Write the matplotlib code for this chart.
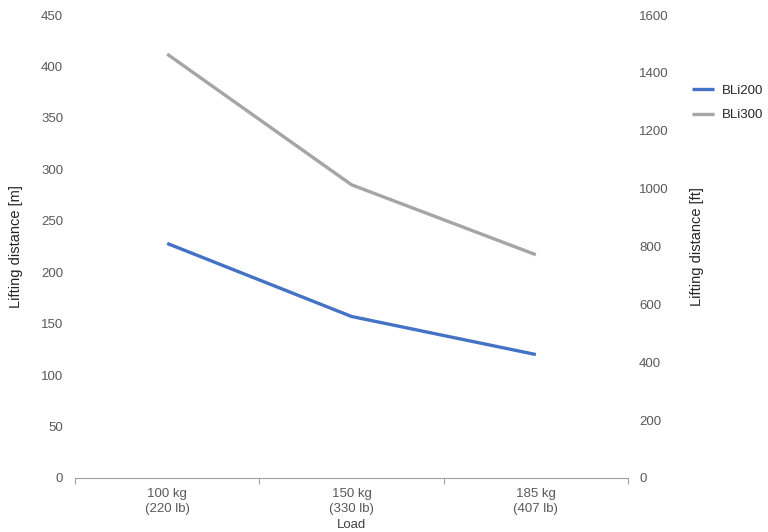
import matplotlib
matplotlib.use("Agg")
import matplotlib.pyplot as plt
import numpy as np

categories = ["100 kg\n(220 lb)", "150 kg\n(330 lb)", "185 kg\n(407 lb)"]
bli200 = [228, 157, 120]
bli300 = [412, 285, 217]
left_ticks = [0, 50, 100, 150, 200, 250, 300, 350, 400, 450]
right_ticks = [0, 200, 400, 600, 800, 1000, 1200, 1400, 1600]

plt.rcParams['font.family'] = ['Liberation Sans', 'DejaVu Sans']
tick_col = '#595959'

fig = plt.figure(figsize=(7.68, 5.32), dpi=100)
W = 628 - 75
ax = fig.add_axes([75/768, 1-478/532, W/768, (478-15)/532])
x = np.arange(len(categories))
ax.plot(x, bli200, color='#4472C4', lw=2.4, label='BLi200', solid_capstyle='butt')
ax.plot(x, bli300, color='#A5A5A5', lw=2.4, label='BLi300', solid_capstyle='butt')
ax.set_xlim(-0.5, len(categories)-0.5)
ax.set_ylim(0, 450)
ax.set_yticks(left_ticks)
ax.set_xticks(x)
ax.set_xticklabels(categories, linespacing=1.3)
ax.set_xticks(np.arange(-0.5, len(categories), 1), minor=True)
ax.tick_params(axis='x', which='major', length=0, pad=7.5, labelsize=9.5, labelcolor=tick_col)
ax.tick_params(axis='x', which='minor', length=4, color='#A0A0A0', width=0.8)
ax.tick_params(axis='y', length=0, pad=8.5, labelsize=9.5, labelcolor=tick_col)
for s in ['top', 'left', 'right']:
    ax.spines[s].set_visible(False)
ax.spines['bottom'].set_color('#A0A0A0')
ax.spines['bottom'].set_linewidth(0.8)
ax.set_xlabel('Load', fontsize=9.5, color='#404040', labelpad=3)
ax.set_ylabel('Lifting distance [m]', fontsize=10.5, color='#262626')
ax.yaxis.set_label_coords((23-75)/W, 0.5)

ax2 = ax.twinx()
ax2.set_ylim(0, 1600)
ax2.set_yticks(right_ticks)
ax2.tick_params(axis='y', length=0, pad=8, labelsize=9.5, labelcolor=tick_col)
for s in ['top', 'left', 'right', 'bottom']:
    ax2.spines[s].set_visible(False)
ax2.set_ylabel('Lifting distance [ft]', fontsize=10.5, color='#262626')
ax2.yaxis.set_label_coords((690-75)/W, 0.5)

leg = ax.legend(loc='upper left', bbox_to_anchor=(680/768, 1-73/532), bbox_transform=fig.transFigure,
                frameon=False, fontsize=9.5, handlelength=1.7, handletextpad=0.6, labelspacing=0.9)
for t in leg.get_texts():
    t.set_color('#262626')

fig.savefig('out.png', dpi=100)
